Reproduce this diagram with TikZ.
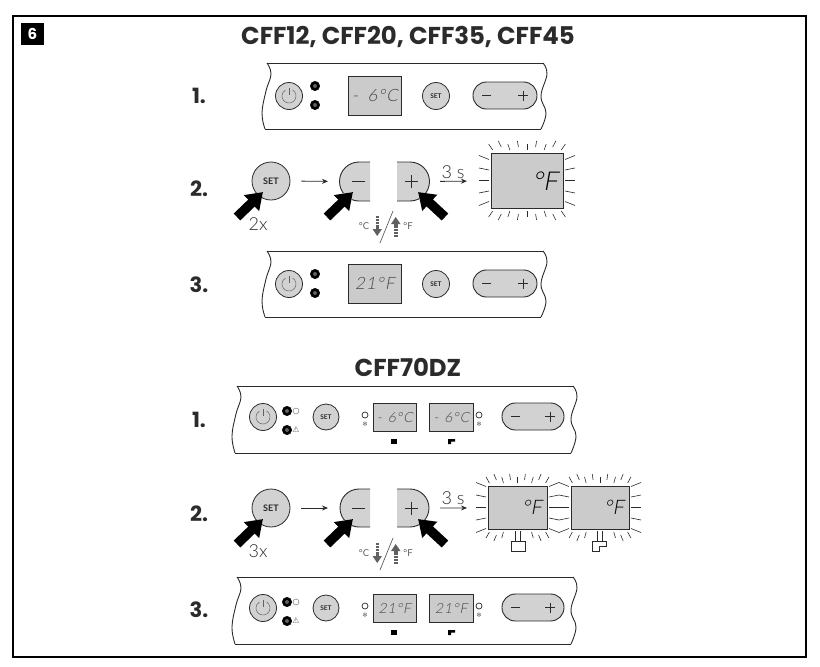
\documentclass[tikz,border=0pt]{standalone}
\usepackage{fontspec}
\setmainfont{Poppins}
\newfontfamily\lcdfont[FakeSlant=0.18,LetterSpace=6]{Lato Light}
\newfontfamily\bigfont[FakeSlant=0.18]{Lato Light}
\newfontfamily\btnfont{Lato}
\newfontfamily\thinfont{Lato Light}
\newfontfamily\symfont{DejaVu Sans}
\usetikzlibrary{arrows.meta,calc}
\definecolor{ink}{HTML}{2B2B2B}
\definecolor{btn}{HTML}{D2D2D2}
\definecolor{lcd}{HTML}{CBCBCB}
\definecolor{lcdtxt}{HTML}{484848}
\definecolor{soft}{HTML}{606060}
\tikzset{
  x=1pt,y=-1pt,
  panelline/.style={draw=ink,line width=0.9pt,line join=round},
  roundbtn/.style={circle,draw=ink,fill=btn,line width=0.8pt,inner sep=0pt},
  lcdbox/.style={rectangle,draw=ink,fill=lcd,line width=0.8pt,inner sep=0pt,anchor=north west},
  pillbox/.style={draw=ink,fill=btn,line width=0.9pt},
  led/.style={circle,fill=black,draw=black,inner sep=0pt,minimum size=9.5pt},
  ledcore/.style={circle,fill=soft,inner sep=0pt,minimum size=4pt},
  rowlabel/.style={font=\fontsize{21}{21}\selectfont\bfseries,text=ink,inner sep=0pt},
  heading/.style={font=\fontsize{24.4}{24.4}\selectfont\bfseries,text=ink,inner sep=0pt},
  flow/.style={draw=ink,line width=0.8pt,-{Stealth[length=6pt,width=5pt]}},
  ray/.style={draw=ink,line width=0.6pt},
  pushhalo/.style={draw=white,line width=12pt,-{Triangle[length=19pt,width=26pt]}},
  push/.style={draw=black,line width=9.5pt,-{Triangle[length=16pt,width=21pt]}},
  smalltxt/.style={font=\fontsize{9.5}{9.5}\selectfont\btnfont,text=soft,inner sep=0pt},
  midtxt/.style={font=\fontsize{18}{18}\selectfont\thinfont,text=ink,inner sep=0pt},
  bigread/.style={inner sep=0pt,text=black,font=\bigfont},
}
% wavy-sided panel: x0,x1,y0,y1
\newcommand{\wavepanel}[4]{%
  \draw[panelline] plot[smooth,tension=0.7] coordinates {(#1,#3) (#1+4,#3+11) (#1-1,#3+28) (#1-5,#3+50) (#1-2,#4)};
  \draw[panelline] plot[smooth,tension=0.7] coordinates {(#2,#3) (#2+4,#3+11) (#2-2,#3+33) (#2+3,#3+50) (#2-2,#4)};
  \draw[panelline] (#1,#3) -- (#2,#3);
  \draw[panelline] (#1-2,#4) -- (#2-2,#4);
}
% power button: name,cx,cy
\newcommand{\powerbtn}[3]{%
  \node[roundbtn,minimum size=27pt] (#1) at (#2,#3) {};
  \draw[draw=soft,line width=0.5pt] ($(#2,#3)+(-60:7)$) arc[start angle=-60,end angle=240,radius=7];
  \draw[draw=soft,line width=0.5pt] (#2,#3-8) -- (#2,#3-1);
}
% led: name,cx,cy
\newcommand{\ledlamp}[3]{\node[led] (#1) at (#2,#3) {};\node[ledcore] at (#2,#3) {};}
% pill: name,x0,x1,y0,y1
\newcommand{\pillbtn}[5]{%
  \node[pillbox,rectangle,rounded corners=13.4pt,inner sep=0pt,minimum width={((#3)-(#2))*1pt},minimum height={((#5)-(#4))*1pt}] (#1) at ({(#2+#3)/2},{(#4+#5)/2}) {};
  \draw[draw=ink,line width=0.8pt] (#2+9,{(#4+#5)/2}) -- (#2+18,{(#4+#5)/2});
  \draw[draw=ink,line width=0.8pt] (#3-19,{(#4+#5)/2}) -- (#3-9,{(#4+#5)/2}) (#3-14,{(#4+#5)/2-5}) -- (#3-14,{(#4+#5)/2+5});
}
% lcd: name,x0,y0,w,h,text,size
\newcommand{\lcdpanel}[7]{%
  \node[lcdbox,minimum width=#4pt,minimum height=#5pt] (#1) at (#2,#3) {};
  \node[inner sep=0pt,text=lcdtxt,font=\fontsize{#7}{#7}\selectfont\lcdfont] at (#1.center) {#6};
}
% half pills: prefix, y0, y1
\newcommand{\halfpills}[3]{%
  \fill[btn] (370,#2) -- (359,#2) arc[start angle=-90,end angle=-270,radius={(#3-#2)/2}] -- (370,#3) -- cycle;
  \draw[draw=ink,line width=0.9pt] (370,#2) -- (359,#2) arc[start angle=-90,end angle=-270,radius={(#3-#2)/2}] -- (370,#3);
  \fill[btn] (397,#2) -- (410,#2) arc[start angle=-90,end angle=90,radius={(#3-#2)/2}] -- (397,#3) -- cycle;
  \draw[draw=ink,line width=0.9pt] (397,#2) -- (410,#2) arc[start angle=-90,end angle=90,radius={(#3-#2)/2}] -- (397,#3);
  \draw[draw=ink,line width=0.9pt] (352,{(#2+#3)/2}) -- (365,{(#2+#3)/2});
  \draw[draw=ink,line width=0.9pt] (405,{(#2+#3)/2}) -- (418,{(#2+#3)/2}) (411.5,{(#2+#3)/2-6.5}) -- (411.5,{(#2+#3)/2+6.5});
  \coordinate (#1minus) at (340,{(#2+#3)/2});
  \coordinate (#1plus) at (429,{(#2+#3)/2});
}
% push arrow: tail name, tip name
\newcommand{\pusharrow}[2]{%
  \draw[pushhalo] (#1) -- (#2);
  \draw[push] (#1) -- (#2);
}
% C/F legend, y = centre of arrows
\newcommand{\unitlegend}[1]{%
  \node[smalltxt] at (364,#1) {°C};
  \node[smalltxt] at (408,#1) {°F};
  \foreach \d in {-10,-7,-4}{\fill[soft] (375.5,#1+\d) rectangle (379,#1+\d+2);}
  \fill[soft] (375.5,#1-1) rectangle (379,#1+3);
  \fill[soft] (372.5,#1+3) -- (382,#1+3) -- (377.2,#1+10) -- cycle;
  \foreach \d in {3,6,9}{\fill[soft] (394,#1+\d) rectangle (397.5,#1+\d+2);}
  \fill[soft] (394,#1-2) rectangle (397.5,#1+2);
  \fill[soft] (391,#1-2) -- (400.5,#1-2) -- (395.7,#1-9) -- cycle;
  \draw[draw=soft,line width=0.7pt] (380,#1+17) -- (393,#1-15);
}
% blinking rays round a box: x0,x1,y0,y1
\newcommand{\blinkrays}[4]{%
  \pgfmathsetmacro{\cxx}{(#1+#2)/2}\pgfmathsetmacro{\cyy}{(#3+#4)/2}
  \pgfmathsetmacro{\stp}{(#2-#1)/8.4}
  \foreach \k/\o in {-4/0,-3/3,-2/0,-1/3,0/0,1/3,2/0,3/3,4/0}{
    \draw[ray] (\cxx+\k*\stp,#3-3-\o) -- (\cxx+\k*\stp*1.12,#3-9-\o);
    \draw[ray] (\cxx+\k*\stp,#4+3+\o) -- (\cxx+\k*\stp*1.12,#4+9+\o);
  }
  \foreach \k in {-2,-1,0,1,2}{
    \draw[ray] (#1-2,\cyy+\k*10.5) -- (#1-12,\cyy+\k*12.5);
    \draw[ray] (#2+2,\cyy+\k*10.5) -- (#2+12,\cyy+\k*12.5);
  }
}
% panel of the first model, vertical offset
\newcommand{\singlepanel}[3]{%
  \wavepanel{267}{543}{#2+63}{#2+129}
  \powerbtn{#1pw}{289}{#2+96}
  \ledlamp{#1la}{315}{#2+86}
  \ledlamp{#1lb}{315}{#2+105}
  \lcdpanel{#1lcd}{348}{#2+76}{53}{39}{#3}{17}
  \node[roundbtn,minimum size=27pt,font=\fontsize{6.5}{6.5}\selectfont\btnfont\bfseries,text=ink] (#1set) at (436,#2+96) {SET};
  \pillbtn{#1pill}{473}{537}{#2+82}{#2+109}
}
% panel of the second model
\newcommand{\dualpanel}[3]{%
  \wavepanel{237}{573}{#2+386}{#2+453}
  \powerbtn{#1pw}{263}{#2+417}
  \ledlamp{#1la}{287}{#2+411}
  \ledlamp{#1lb}{287}{#2+430}
  \draw[draw=soft,line width=0.4pt] (296,#2+411) circle (3);
  \node[inner sep=0pt,text=soft,font=\fontsize{8}{8}\selectfont\symfont] at (296,#2+430) {⚠};
  \node[roundbtn,minimum size=26pt,font=\fontsize{6.5}{6.5}\selectfont\btnfont\bfseries,text=ink] (#1set) at (326,#2+417) {SET};
  \draw[draw=ink,line width=0.7pt] (365,#2+415) circle (3);
  \node[inner sep=0pt,text=soft,font=\fontsize{6.5}{6.5}\selectfont\symfont] at (365,#2+424) {❄};
  \lcdpanel{#1lcda}{373}{#2+403}{43}{28}{#3}{14}
  \lcdpanel{#1lcdb}{429}{#2+403}{44}{28}{#3}{14}
  \draw[draw=ink,line width=0.7pt] (479,#2+415) circle (3);
  \node[inner sep=0pt,text=soft,font=\fontsize{6.5}{6.5}\selectfont\symfont] at (479,#2+424) {❄};
  \pillbtn{#1pill}{502}{564}{#2+403}{#2+430}
  \fill[black] (391,#2+439) rectangle (397,#2+444);
  \fill[black] (448,#2+439) rectangle (455,#2+441.5) (448,#2+441.5) rectangle (451,#2+444);
}
\begin{document}
\begin{tikzpicture}
\useasboundingbox (0,0) rectangle (820,667);
\fill[white] (0,0) rectangle (820,667);
\draw[black,line width=2pt] (13,16) rectangle (806,657);

\node[fill=black,text=white,minimum width=23pt,minimum height=22pt,inner sep=0pt,font=\fontsize{15}{15}\selectfont\bfseries] (badge) at (32.5,34) {6};
\node[heading] (titleA) at (408,37) {CFF12, CFF20, CFF35, CFF45};
\node[heading] (titleB) at (408,367) {CFF70DZ};

\node[rowlabel] (a1) at (199,96) {1.};
\node[rowlabel] (a2) at (199,189) {2.};
\node[rowlabel] (a3) at (199,285) {3.};
\node[rowlabel] (b1) at (199,420) {1.};
\node[rowlabel] (b2) at (199,514) {2.};
\node[rowlabel] (b3) at (199,610) {3.};

\singlepanel{pa}{0}{-\hspace{0.55em}6°C}
\singlepanel{pc}{188}{21°F}
\dualpanel{qa}{0}{-\hspace{0.4em}6°C}
\dualpanel{qc}{191}{21°F}

% step 2, first model
\node[roundbtn,minimum size=38pt,font=\fontsize{9}{9}\selectfont\btnfont\bfseries,text=ink] (setA) at (271,181) {SET};
\halfpills{A}{162}{201}
\blinkrays{491}{563}{153}{208}
\node[lcdbox,minimum width=72pt,minimum height=55pt] (dispA) at (491,153) {};
\node[bigread,font=\fontsize{26}{26}\selectfont\bigfont] at (545,181) {°F};
\draw[flow,shorten <=11pt,shorten >=12pt] (setA.east) -- (Aminus);
\draw[flow,shorten <=11pt,shorten >=24pt] (Aplus) -- (dispA.west);
\node[midtxt] at (453,172) {3 s};
\coordinate (t1) at (237,217); \coordinate (h1) at (263,192);
\coordinate (t2) at (327,217); \coordinate (h2) at (353,192);
\coordinate (t3) at (445,217); \coordinate (h3) at (418,192);
\pusharrow{t1}{h1}\pusharrow{t2}{h2}\pusharrow{t3}{h3}
\node[midtxt] at (258,224) {2x};
\unitlegend{226}

% step 2, second model
\node[roundbtn,minimum size=38pt,font=\fontsize{9}{9}\selectfont\btnfont\bfseries,text=ink] (setB) at (271,508) {SET};
\halfpills{B}{489}{527}
\blinkrays{488}{547}{486}{529}
\blinkrays{571}{629}{486}{529}
\node[lcdbox,minimum width=59pt,minimum height=43pt] (dispB) at (488,486) {};
\node[lcdbox,minimum width=58pt,minimum height=43pt] (dispC) at (571,486) {};
\node[bigread,font=\fontsize{20}{20}\selectfont\bigfont] at (532,507) {°F};
\node[bigread,font=\fontsize{20}{20}\selectfont\bigfont] at (614,507) {°F};
\draw[flow,shorten <=11pt,shorten >=21pt] (Bplus) -- (dispB.west);
\draw[flow,shorten <=11pt,shorten >=12pt] (setB.east) -- (Bminus);
\node[midtxt] at (453,498) {3 s};
\coordinate (t4) at (237,544); \coordinate (h4) at (263,519);
\coordinate (t5) at (327,544); \coordinate (h5) at (353,519);
\coordinate (t6) at (445,544); \coordinate (h6) at (418,519);
\pusharrow{t4}{h4}\pusharrow{t5}{h5}\pusharrow{t6}{h6}
\node[midtxt] at (258,551) {3x};
\unitlegend{553}
% compartment tabs
\fill[white] (508,532) rectangle (528,552);
\fill[white] (589,532) rectangle (609,552);
\draw[ink,line width=0.7pt] (515,531) -- (515,541) (520,531) -- (520,541);
\draw[ink,line width=0.8pt] (511,541) rectangle (525,551);
\draw[ink,line width=0.7pt] (597,531) -- (597,541) (602,531) -- (602,541);
\draw[ink,line width=0.8pt] (592,551) -- (592,541) -- (606,541) -- (606,546) -- (599,546) -- (599,551) -- cycle;
\end{tikzpicture}
\end{document}
